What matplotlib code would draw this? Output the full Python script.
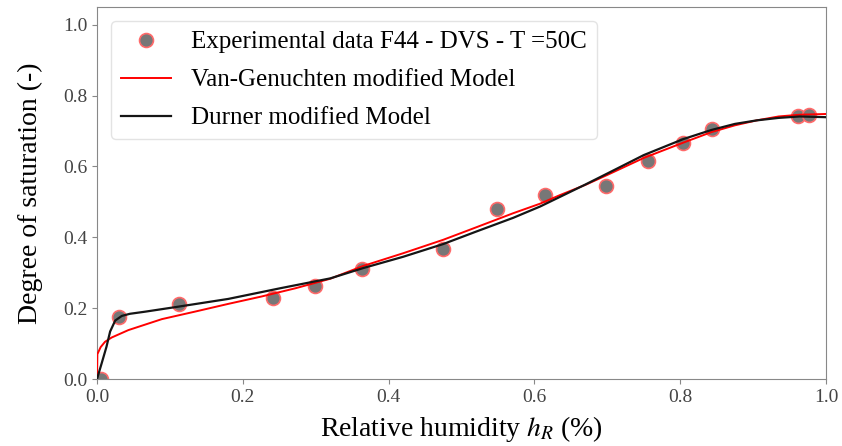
import numpy as np
import matplotlib
matplotlib.use("Agg")
import matplotlib.pyplot as plt

plt.rcParams['font.family'] = ['Liberation Serif', 'DejaVu Serif']
plt.rcParams['mathtext.fontset'] = 'stix'

#--- measured points (DVS, T = 50C)
hr_exp = [0.005, 0.030, 0.112, 0.241, 0.299, 0.363, 0.475, 0.549, 0.614, 0.698, 0.756, 0.804, 0.844, 0.962, 0.977]
sr_exp = [0.000, 0.174, 0.212, 0.230, 0.263, 0.310, 0.366, 0.480, 0.519, 0.545, 0.614, 0.666, 0.705, 0.743, 0.746]

#--- Van-Genuchten modified model
hr_vg = [0.0, 0.0005, 0.005, 0.011, 0.02, 0.043, 0.089, 0.134, 0.18, 0.226, 0.272, 0.32, 0.365, 0.42,
         0.475, 0.52, 0.571, 0.608, 0.635, 0.67, 0.70, 0.75, 0.804, 0.843, 0.875, 0.905, 0.935, 0.964, 1.0]
sr_vg = [0.0, 0.07, 0.09, 0.105, 0.117, 0.138, 0.169, 0.19, 0.212, 0.233, 0.256, 0.283, 0.319, 0.355,
         0.393, 0.428, 0.468, 0.495, 0.519, 0.548, 0.576, 0.624, 0.667, 0.697, 0.716, 0.73, 0.741, 0.746, 0.748]

#--- Durner modified model
hr_du = [0.0, 0.0065, 0.013, 0.018, 0.025, 0.034, 0.045, 0.066, 0.111, 0.18, 0.251, 0.32, 0.365, 0.42,
         0.475, 0.52, 0.571, 0.608, 0.635, 0.67, 0.70, 0.75, 0.804, 0.843, 0.875, 0.905, 0.935, 0.964, 1.0]
sr_du = [0.0, 0.045, 0.091, 0.134, 0.165, 0.178, 0.184, 0.19, 0.204, 0.226, 0.256, 0.284, 0.313, 0.345,
         0.381, 0.416, 0.455, 0.487, 0.514, 0.549, 0.58, 0.632, 0.677, 0.703, 0.72, 0.73, 0.737, 0.741, 0.739]

fig = plt.figure(figsize=(8.42, 4.46), dpi=100)
ax = fig.add_axes([97/842, 1-379/446, 729/842, 372/446])

ax.plot(hr_exp, sr_exp, 'o', color='#777777', markeredgecolor='#ff6a6a', markeredgewidth=1.2,
        markersize=10, label='Experimental data F44 - DVS - T =50C', zorder=2)
ax.plot(hr_vg, sr_vg, color='red', lw=1.4, label='Van-Genuchten modified Model', zorder=3)
ax.plot(hr_du, sr_du, color='#151515', lw=1.6, label='Durner modified Model', zorder=3)

ax.set_xlim(0, 1)
ax.set_ylim(0, 1.05)
ax.set_xticks([0.0, 0.2, 0.4, 0.6, 0.8, 1.0])
ax.set_yticks([0.0, 0.2, 0.4, 0.6, 0.8, 1.0])
ax.tick_params(labelsize=14, colors='#888888', labelcolor='#444444', length=3.5)
for s in ax.spines.values():
    s.set_color('#888888')

ax.set_xlabel('Relative humidity $h_R$ (%)', fontsize=20, labelpad=6)
ax.set_ylabel('Degree of saturation (-)', fontsize=20, labelpad=14)

ax.legend(loc='upper left', fontsize=18, handlelength=2.0, labelspacing=0.62,
          framealpha=0.8, edgecolor='#dddddd', borderaxespad=0.55)

fig.savefig('out.png', dpi=100)
